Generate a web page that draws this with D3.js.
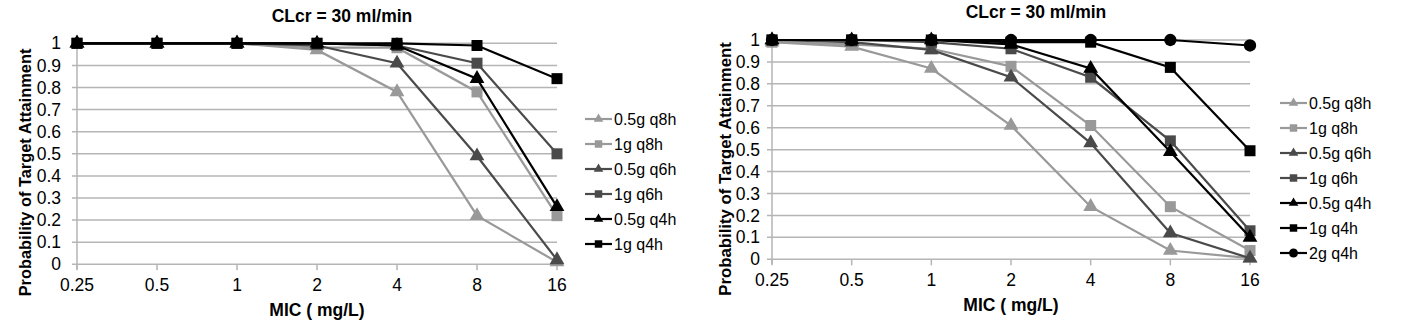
<!DOCTYPE html>
<html><head><meta charset="utf-8">
<script src="https://cdn.jsdelivr.net/npm/d3@7"></script>
<style>
html,body{margin:0;padding:0;background:#fff;}
svg{display:block;font-family:"Liberation Sans",Arial,sans-serif;}
</style></head>
<body>
<svg id="c" width="1405" height="333"></svg>
<script>
// ---- data ----
const categories = ["0.25","0.5","1","2","4","8","16"];
const yTicks = [0,0.1,0.2,0.3,0.4,0.5,0.6,0.7,0.8,0.9,1];
const yTickLabels = ["0","0.1","0.2","0.3","0.4","0.5","0.6","0.7","0.8","0.9","1"];
const chartTitle = "CLcr = 30 ml/min";
const xTitle = "MIC ( mg/L)";
const yTitle = "Probability of Target Attainment";
const seriesNames = ["0.5g q8h","1g q8h","0.5g q6h","1g q6h","0.5g q4h","1g q4h","2g q4h"];

// left panel
const left_05g_q8h = [1,1,1,0.97,0.78,0.22,0.01];
const left_1g_q8h  = [1,1,1,0.98,0.98,0.78,0.22];
const left_05g_q6h = [1,1,1,0.99,0.91,0.49,0.02];
const left_1g_q6h  = [1,1,1,1,0.99,0.91,0.50];
const left_05g_q4h = [1,1,1,1,0.99,0.84,0.26];
const left_1g_q4h  = [1,1,1,1,1,0.99,0.84];

// right panel
const right_05g_q8h = [0.99,0.97,0.87,0.61,0.24,0.04,0.005];
const right_1g_q8h  = [0.99,0.98,0.96,0.88,0.61,0.24,0.04];
const right_05g_q6h = [1,0.99,0.955,0.83,0.53,0.12,0.005];
const right_1g_q6h  = [1,1,0.99,0.96,0.83,0.54,0.13];
const right_05g_q4h = [1,1,1,0.98,0.87,0.49,0.10];
const right_1g_q4h  = [1,1,1,0.99,0.99,0.875,0.495];
const right_2g_q4h  = [1,1,1,1,1,1,0.975];

// ---- styles ----
const LIGHT = "#999999", DARK = "#4a4a4a", BLACK = "#000000";
const styleOf = {
  "0.5g q8h": {color: LIGHT, shape: "tri"},
  "1g q8h":   {color: LIGHT, shape: "sq"},
  "0.5g q6h": {color: DARK,  shape: "tri"},
  "1g q6h":   {color: DARK,  shape: "sq"},
  "0.5g q4h": {color: BLACK, shape: "tri"},
  "1g q4h":   {color: BLACK, shape: "sq"},
  "2g q4h":   {color: BLACK, shape: "circ"}
};
const symType = {tri: d3.symbolTriangle, sq: d3.symbolSquare, circ: d3.symbolCircle};
const bigSize = {tri: 95, sq: 121, circ: 120};
const smallSize = {tri: 40, sq: 56, circ: 62};

const svg = d3.select("#c");

function drawChart(cfg, series) {
  const g = svg.append("g");
  const x = d3.scalePoint().domain(categories).range([cfg.x0, cfg.x1]);
  const y = d3.scaleLinear().domain([0,1]).range([cfg.yb, cfg.yt]);

  // gridlines (with outer tick stubs)
  g.selectAll("line.grid").data(yTicks).join("line")
    .attr("x1", cfg.x0 - 5).attr("x2", cfg.x1)
    .attr("y1", d => y(d)).attr("y2", d => y(d))
    .attr("stroke", "#b5b5b5").attr("stroke-width", 1.5);

  // vertical axis line
  g.append("line").attr("x1", cfg.x0).attr("x2", cfg.x0)
    .attr("y1", y(1)).attr("y2", y(0) + 5)
    .attr("stroke", "#b5b5b5").attr("stroke-width", 1.5);
  // category tick marks
  g.selectAll("line.ct").data(categories).join("line")
    .attr("x1", d => x(d)).attr("x2", d => x(d))
    .attr("y1", y(0)).attr("y2", y(0) + 6)
    .attr("stroke", "#b5b5b5").attr("stroke-width", 1.5);

  // y tick labels
  g.selectAll("text.yt").data(yTicks).join("text")
    .attr("x", cfg.yLabX).attr("y", d => y(d)).attr("dy", "0.35em")
    .attr("text-anchor", "end").attr("font-size", 17.5).attr("fill", "#000")
    .text((d,i) => yTickLabels[i]);
  // x tick labels
  g.selectAll("text.xt").data(categories).join("text")
    .attr("x", d => x(d)).attr("y", cfg.xLabY).attr("dy", "0.35em")
    .attr("text-anchor", "middle").attr("font-size", 17.5).attr("fill", "#000")
    .text(d => d);

  // titles
  g.append("text").attr("x", cfg.titleX).attr("y", cfg.titleY).attr("dy", "0.35em")
    .attr("text-anchor", "middle").attr("font-size", 17.5).attr("font-weight", "bold")
    .attr("fill", "#000").text(chartTitle);
  g.append("text").attr("x", x(categories[3])).attr("y", cfg.xTitleY).attr("dy", "0.35em")
    .attr("text-anchor", "middle").attr("font-size", 17.5).attr("font-weight", "bold")
    .attr("fill", "#000").text(xTitle);
  g.append("text").attr("transform", `translate(${cfg.yTitleX},${cfg.yTitleY}) rotate(-90)`)
    .attr("dy", "0.35em").attr("text-anchor", "middle").attr("font-size", cfg.yTitleSize)
    .attr("font-weight", "bold").attr("fill", "#000").text(yTitle);

  const line = d3.line().x((d,i) => x(categories[i])).y(d => y(d));

  series.forEach(s => {
    const st = styleOf[s.name];
    g.append("path").attr("d", line(s.values)).attr("fill", "none")
      .attr("stroke", st.color).attr("stroke-width", 2.2);
    g.selectAll(null).data(s.values).join("path")
      .attr("transform", (d,i) => `translate(${x(categories[i])},${y(d)})`)
      .attr("d", d3.symbol().type(symType[st.shape]).size(bigSize[st.shape]))
      .attr("fill", st.color);
  });

  // legend
  series.forEach((s, k) => {
    const st = styleOf[s.name];
    const ly = cfg.legY0 + k * cfg.legStep;
    g.append("line").attr("x1", cfg.legX).attr("x2", cfg.legX + 27)
      .attr("y1", ly).attr("y2", ly).attr("stroke", st.color).attr("stroke-width", 2.2);
    g.append("path").attr("transform", `translate(${cfg.legX + 13.5},${ly})`)
      .attr("d", d3.symbol().type(symType[st.shape]).size(smallSize[st.shape]))
      .attr("fill", st.color);
    g.append("text").attr("x", cfg.legX + 29).attr("y", ly).attr("dy", "0.35em")
      .attr("font-size", 16).attr("fill", "#000").text(s.name);
  });
}

drawChart({
  x0: 77, x1: 557, yt: 43.3, yb: 264.3, yLabX: 61, xLabY: 285,
  titleX: 342, titleY: 15.5, xTitleY: 310, yTitleX: 25, yTitleY: 172.5, yTitleSize: 16.4,
  legX: 585, legY0: 119, legStep: 25
}, [
  {name: seriesNames[0], values: left_05g_q8h},
  {name: seriesNames[1], values: left_1g_q8h},
  {name: seriesNames[2], values: left_05g_q6h},
  {name: seriesNames[3], values: left_1g_q6h},
  {name: seriesNames[4], values: left_05g_q4h},
  {name: seriesNames[5], values: left_1g_q4h}
]);

drawChart({
  x0: 772, x1: 1250, yt: 40, yb: 259.3, yLabX: 760, xLabY: 280,
  titleX: 1036, titleY: 11.5, xTitleY: 305, yTitleX: 725, yTitleY: 169, yTitleSize: 16.8,
  legX: 1280, legY0: 103, legStep: 25
}, [
  {name: seriesNames[0], values: right_05g_q8h},
  {name: seriesNames[1], values: right_1g_q8h},
  {name: seriesNames[2], values: right_05g_q6h},
  {name: seriesNames[3], values: right_1g_q6h},
  {name: seriesNames[4], values: right_05g_q4h},
  {name: seriesNames[5], values: right_1g_q4h},
  {name: seriesNames[6], values: right_2g_q4h}
]);
</script>
</body></html>
